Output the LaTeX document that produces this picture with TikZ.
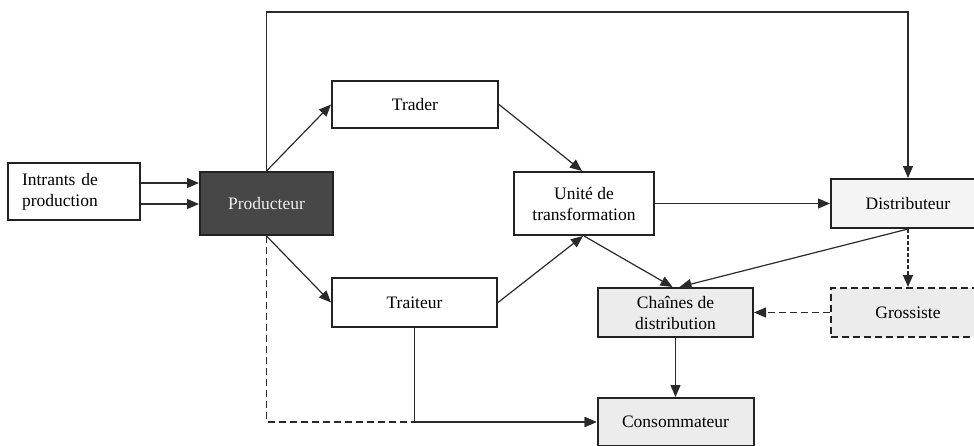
\documentclass[tikz,border=0pt]{standalone}
\usepackage{fontspec}
\setmainfont{Liberation Serif}
\usetikzlibrary{arrows.meta,calc}
\definecolor{boxline}{HTML}{222222}
\definecolor{conline}{HTML}{2A2A2A}
\definecolor{darkfill}{HTML}{474747}
\definecolor{lightA}{HTML}{F4F4F4}
\definecolor{lightB}{HTML}{ECECEC}
\tikzset{
  box/.style={draw=boxline, line width=2pt, fill=white, align=center,
    inner sep=0pt, font=\fontsize{17.5}{21}\selectfont, text=black},
  arr/.style={draw=conline, line width=1.2pt, -{Triangle[length=12pt,width=10pt]}},
  dashline/.style={arr, dash pattern=on 7pt off 4pt},
  dotline/.style={arr, dash pattern=on 3.5pt off 2.5pt},
}
\begin{document}
\begin{tikzpicture}[x=1pt,y=-1pt]
\useasboundingbox (0,0) rectangle (974,445);
% nodes
\node[box, align=left, text width=104pt, inner xsep=14pt, minimum height=57pt] (intr) at (74,191.5) {Intrants de\\production};
\node[box, fill=darkfill, draw=boxline, text=white!93!black, minimum width=133pt, minimum height=63pt] (prod) at (266.5,203.5) {Producteur};
\node[box, minimum width=166pt, minimum height=47pt] (trader) at (415,104.5) {Trader};
\node[box, minimum width=165pt, minimum height=49pt] (traiteur) at (414.5,302.5) {Traiteur};
\node[box, minimum width=140pt, minimum height=63pt] (unite) at (584,203.5) {Unité de\\transformation};
\node[box, fill=lightA, minimum width=154pt, minimum height=49pt] (distr) at (908,203.5) {Distributeur};
\node[box, fill=lightB, minimum width=155pt, minimum height=49pt] (chaines) at (675.5,312.5) {Chaînes de\\distribution};
\node[box, fill=lightB, dash pattern=on 7pt off 4pt, minimum width=154pt, minimum height=49pt] (gross) at (908,312.5) {Grossiste};
\node[box, fill=lightB, minimum width=156pt, minimum height=48pt] (conso) at (675.5,422) {Consommateur};
% helper coordinates
\coordinate (ya) at (0,183);
\coordinate (yb) at (0,204);
\coordinate (ytop) at (0,12);
% connectors
\draw[arr] (intr.east |- ya) -- (prod.west |- ya);
\draw[arr] (intr.east |- yb) -- (prod.west |- yb);
\draw[arr] (prod.north) -- (trader.west);
\draw[arr] (prod.north) -- (prod.north |- ytop) -- (distr.north |- ytop) -- (distr.north);
\draw[arr] (trader.east) -- ($(unite.north)+(-2,0)$);
\draw[arr] (prod.south) -- (traiteur.west);
\draw[arr] (traiteur.east) -- ($(unite.south)+(-1,0)$);
\draw[arr] (unite.east) -- (distr.west);
\draw[arr] (unite.south) -- ($(chaines.north)+(-3,0)$);
\draw[arr] (distr.south) -- ($(chaines.north)+(4,0)$);
\draw[dotline] (distr.south) -- (gross.north);
\draw[dashline] (gross.west) -- (chaines.east);
\draw[arr] (chaines.south) -- (conso.north);
\draw[dashline] (prod.south) -- (prod.south |- conso.west) -- (conso.west);
\draw[arr] (traiteur.south) -- (traiteur.south |- conso.west) -- (conso.west);
\end{tikzpicture}
\end{document}
